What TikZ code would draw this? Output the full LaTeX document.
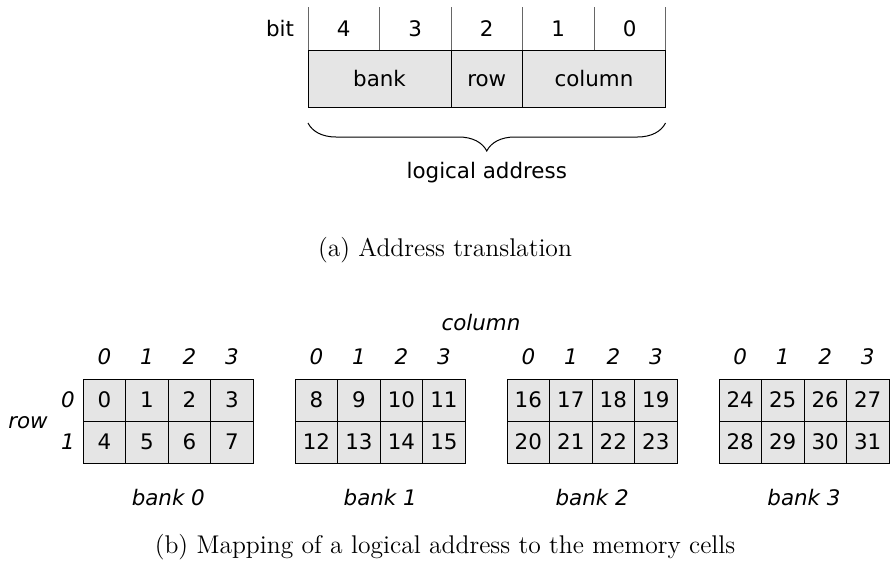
\documentclass[tikz,border=0pt]{standalone}
\usepackage{fontspec}
\newfontfamily\diagfont{DejaVu Sans}
\usetikzlibrary{positioning,decorations.pathreplacing}
\tikzstyle{bitcell} = [rectangle, minimum width=35.75pt, minimum height=21.5pt,
    inner sep=0pt, outer sep=0pt]
\tikzstyle{field} = [rectangle, draw, fill=black!10, line width=0.5pt,
    minimum height=28.5pt, inner sep=0pt, outer sep=0pt, text centered,
    text height=0.9em, text depth=0.1em]
\tikzstyle{cell} = [rectangle, draw, fill=black!10, line width=0.5pt,
    minimum width=21.25pt, minimum height=21pt, inner sep=0pt, outer sep=0pt]
\tikzstyle{every node}=[font=\diagfont\fontsize{10.7}{13}\selectfont]
\tikzstyle{idx}=[font=\diagfont\itshape\fontsize{10.7}{13}\selectfont]
\tikzstyle{caption}=[font=\rmfamily\fontsize{12.8}{15}\selectfont]

\begin{document}
\begin{tikzpicture}[x=0.5pt,y=-0.5pt]
	\useasboundingbox (0,0) rectangle (891,574);
	% Address translation
	\node (bitlabel) at (280,29) {bit};
	\foreach \b [count=\i from 0] in {4,3,2,1,0}
		\node[bitcell] (bit\b) at ({343.75+71.5*\i},28.5) {\b};
	\foreach \b in {4,3,2,1,0}
		\draw[line width=0.5pt, black!60] (bit\b.north west) -- (bit\b.south west);
	\draw[line width=0.5pt, black!60] (bit0.north east) -- (bit0.south east);
	
	\node[field, minimum width=71.5pt, anchor=north west] (bank) at (bit4.south west) {bank};
	\node[field, minimum width=35.75pt, right=0pt of bank] (row) {row};
	\node[field, minimum width=71.5pt, right=0pt of row] (column) {column};
	
	\draw[decorate, decoration={brace, mirror, amplitude=14pt}, line width=0.5pt]
		([yshift=-8pt]bank.south west) -- coordinate (brace mid) ([yshift=-8pt]column.south east);
	\node[below=16pt of brace mid] (logical) {logical address};
	
	\node[caption] (capa) at (445,250) {(a) Address translation};
	
	% Mapping to the memory cells
	\foreach \k in {0,...,3}{
		\foreach \r in {0,1}
			\foreach \c in {0,...,3}{
				\pgfmathtruncatemacro\n{8*\k+4*\r+\c}
				\node[cell] (m\n) at ({104.55+211.9*\k+42.5*\c},{400+42*\r}) {\n};
			}
		\foreach \c in {0,...,3}
			\node[idx] (col\k\c) at ({104.55+211.9*\k+42.5*\c},357) {\c};
		\node[idx] (bank\k) at ({168.3+211.9*\k},498) {bank \k};
	}
	\node[idx] (rowidx0) at (68,400) {0};
	\node[idx] (rowidx1) at (68,442) {1};
	\node[idx] (rowlabel) at (28,423) {row};
	\node[idx] (collabel) at (481,323) {column};
	
	\node[caption] (capb) at (445,547) {(b) Mapping of a logical address to the memory cells};
\end{tikzpicture}
\end{document}
